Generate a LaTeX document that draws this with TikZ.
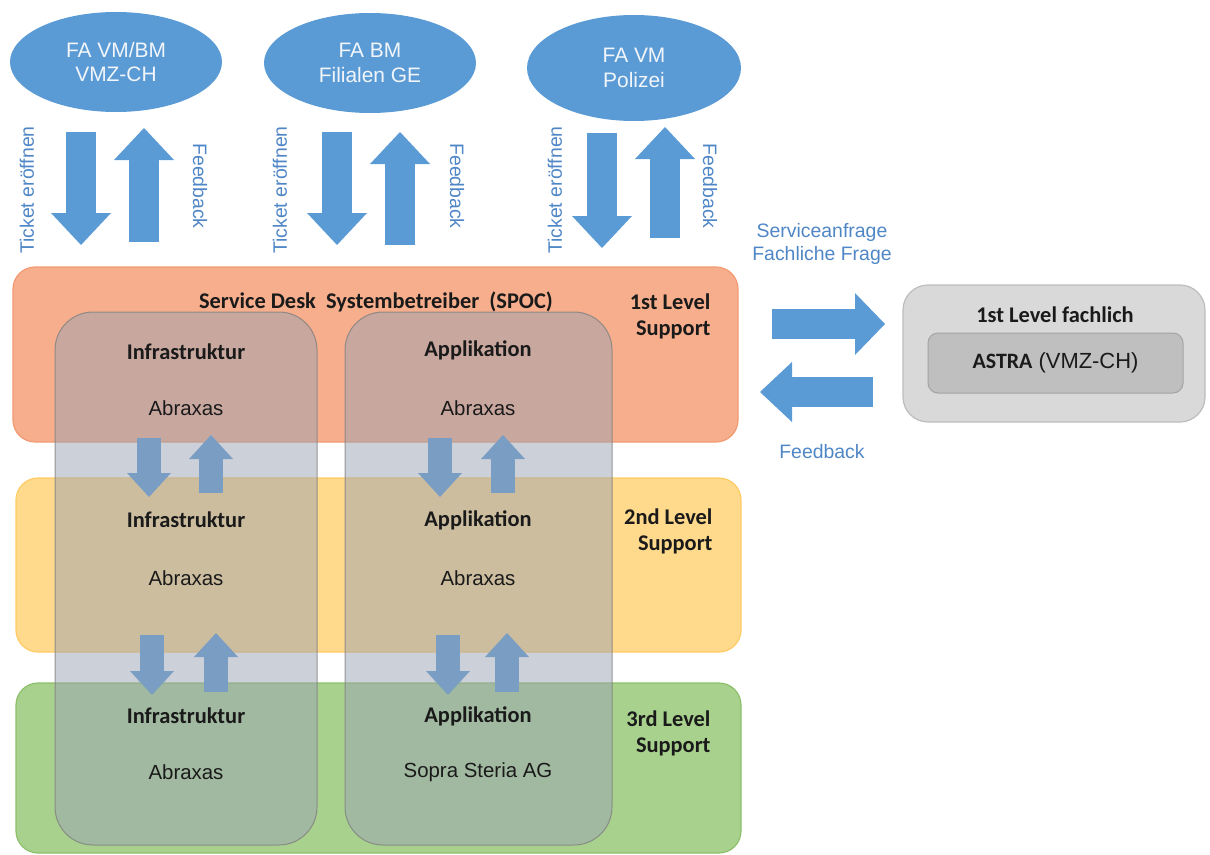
\documentclass[tikz,border=0pt]{standalone}
\usepackage{fontspec}
\setmainfont{Liberation Sans}
\newfontfamily\calib{Carlito}
\usetikzlibrary{arrows.meta,shapes.geometric}

\definecolor{fablau}{HTML}{5B9BD5}
\definecolor{faschrift}{HTML}{F2F6FB}
\definecolor{txtblau}{HTML}{4F86C6}
\definecolor{lvlorange}{HTML}{F7AE8C}
\definecolor{lvlorangerand}{HTML}{F29B73}
\definecolor{lvlgelb}{HTML}{FFD98C}
\definecolor{lvlgelbrand}{HTML}{FFCB66}
\definecolor{lvlgruen}{HTML}{A9D18E}
\definecolor{lvlgruenrand}{HTML}{8DC06C}
\definecolor{ueberlag}{HTML}{9AA2B2}
\definecolor{schwarz}{HTML}{1A1A1A}
\definecolor{grauhell}{HTML}{D9D9D9}
\definecolor{graurand}{HTML}{BDBDBD}
\definecolor{graudunkel}{HTML}{BFBFBF}
\definecolor{graudunkelrand}{HTML}{A3A3A3}

\tikzset{
  fa/.style={ellipse, fill=fablau, text=faschrift, minimum width=212bp, minimum height=100bp, align=center, font=\fontsize{21}{25}\selectfont},
  gross/.style={color=fablau, line width=30bp, -{Triangle[width=60bp,length=32bp,line width=0pt]}},
  klein/.style={color=fablau, line width=24bp, -{Triangle[width=44bp,length=24bp,line width=0pt]}},
  blaulabel/.style={text=txtblau, align=center, font=\fontsize{19.5}{23}\selectfont},
  ebene/.style={rounded corners=22bp, line width=1.2bp},
  saeule/.style={rounded corners=38bp, fill=ueberlag, fill opacity=0.5, draw=gray, draw opacity=0.8, line width=1bp},
  fett/.style={text=schwarz, align=center, font=\calib\bfseries\fontsize{22.5}{26}\selectfont},
  normal/.style={text=schwarz, font=\fontsize{20.5}{24}\selectfont},
}

\begin{document}
\begin{tikzpicture}[x=1bp, y=-1bp]
  \useasboundingbox (0,0) rectangle (1210,855);
  % Fachanwender
  \node[fa](favmbm)at(116,62){FA VM/BM\\VMZ-CH};
  \node[fa](fabm)at(370,63){FA BM\\Filialen GE};
  \node[fa, minimum width=214bp, minimum height=106bp](favm)at(634,68){FA VM\\Polizei};
  % Ticket / Feedback
  \coordinate(t1o)at(81,132);   \coordinate(t1u)at(81,245);
  \coordinate(f1u)at(144,242);  \coordinate(f1o)at(144,128);
  \coordinate(t2o)at(337,132);  \coordinate(t2u)at(337,245);
  \coordinate(f2u)at(400,245);  \coordinate(f2o)at(400,132);
  \coordinate(t3o)at(602,133);  \coordinate(t3u)at(602,248);
  \coordinate(f3u)at(665,238);  \coordinate(f3o)at(665,127);
  \path[draw, gross](t1o)to(t1u);
  \path[draw, gross](f1u)to(f1o);
  \path[draw, gross](t2o)to(t2u);
  \path[draw, gross](f2u)to(f2o);
  \path[draw, gross](t3o)to(t3u);
  \path[draw, gross](f3u)to(f3o);
  \node[blaulabel, rotate=90](tk1)at(27,190){Ticket eröffnen};
  \node[blaulabel, rotate=-90](fb1)at(200,186){Feedback};
  \node[blaulabel, rotate=90](tk2)at(280,190){Ticket eröffnen};
  \node[blaulabel, rotate=-90](fb2)at(457,186){Feedback};
  \node[blaulabel, rotate=90](tk3)at(555,190){Ticket eröffnen};
  \node[blaulabel, rotate=-90](fb3)at(710,186){Feedback};
  % Support-Ebenen
  \path[draw=lvlorangerand, fill=lvlorange, ebene](13,267)rectangle(738,442);
  \path[draw=lvlgelbrand, fill=lvlgelb, ebene](16,478)rectangle(741,652);
  \path[draw=lvlgruenrand, fill=lvlgruen, ebene](16,683)rectangle(741,853);
  % Eskalation zwischen den Ebenen
  \coordinate(i1o)at(149,438);  \coordinate(i1u)at(149,497);
  \coordinate(i2u)at(211,493);  \coordinate(i2o)at(211,435);
  \coordinate(a1o)at(440,438);  \coordinate(a1u)at(440,497);
  \coordinate(a2u)at(503,493);  \coordinate(a2o)at(503,435);
  \coordinate(i3o)at(152,635);  \coordinate(i3u)at(152,695);
  \coordinate(i4u)at(216,692);  \coordinate(i4o)at(216,633);
  \coordinate(a3o)at(448,635);  \coordinate(a3u)at(448,695);
  \coordinate(a4u)at(507,692);  \coordinate(a4o)at(507,633);
  \path[draw, klein](i1o)to(i1u);
  \path[draw, klein](i2u)to(i2o);
  \path[draw, klein](a1o)to(a1u);
  \path[draw, klein](a2u)to(a2o);
  \path[draw, klein](i3o)to(i3u);
  \path[draw, klein](i4u)to(i4o);
  \path[draw, klein](a3o)to(a3u);
  \path[draw, klein](a4u)to(a4o);
  % Saeulen
  \path[saeule](55,312)rectangle(317,845);
  \path[saeule](345,312)rectangle(612,845);
  % Texte
  \node[fett](spoc)at(376,302){Service Desk~ Systembetreiber~ (SPOC)};
  \node[fett, align=right, anchor=east](lvl1)at(714,316){1st Level\\Support};
  \node[fett, align=right, anchor=east](lvl2)at(716,531){2nd Level\\Support};
  \node[fett, align=right, anchor=east](lvl3)at(714,733){3rd Level\\Support};
  \node[fett](inf1)at(186,352){Infrastruktur};
  \node[normal](inf1b)at(186,408){Abraxas};
  \node[fett](app1)at(478,350){Applikation};
  \node[normal](app1b)at(478,408){Abraxas};
  \node[fett](inf2)at(186,520){Infrastruktur};
  \node[normal](inf2b)at(186,578){Abraxas};
  \node[fett](app2)at(478,520){Applikation};
  \node[normal](app2b)at(478,578){Abraxas};
  \node[fett](inf3)at(186,716){Infrastruktur};
  \node[normal](inf3b)at(186,772){Abraxas};
  \node[fett](app3)at(478,716){Applikation};
  \node[normal](app3b)at(478,772){Sopra Steria AG};
  % 1st Level fachlich
  \node[draw=graurand, fill=grauhell, rounded corners=25bp, line width=1.2bp, minimum width=302bp, minimum height=137bp](fach)at(1054,353.5){};
  \node[fett](fachtitel)at(1055,315){1st Level fachlich};
  \node[draw=graudunkelrand, fill=graudunkel, rounded corners=10bp, line width=1bp, minimum width=255bp, minimum height=60bp, text=schwarz, font=\fontsize{22}{26}\selectfont](astra)at(1055.5,363){{\calib\bfseries ASTRA}~(VMZ-CH)};
  \coordinate(sa1)at(772,324);  \coordinate(sa2)at(885,324);
  \coordinate(sb1)at(873,392);  \coordinate(sb2)at(760,392);
  \path[draw, gross, -{Triangle[width=62bp,length=30bp,line width=0pt]}](sa1)to(sa2);
  \path[draw, gross](sb1)to(sb2);
  \node[blaulabel](anfrage)at(822,244){Serviceanfrage\\Fachliche Frage};
  \node[blaulabel](fbfach)at(822,452){Feedback};
\end{tikzpicture}
\end{document}
